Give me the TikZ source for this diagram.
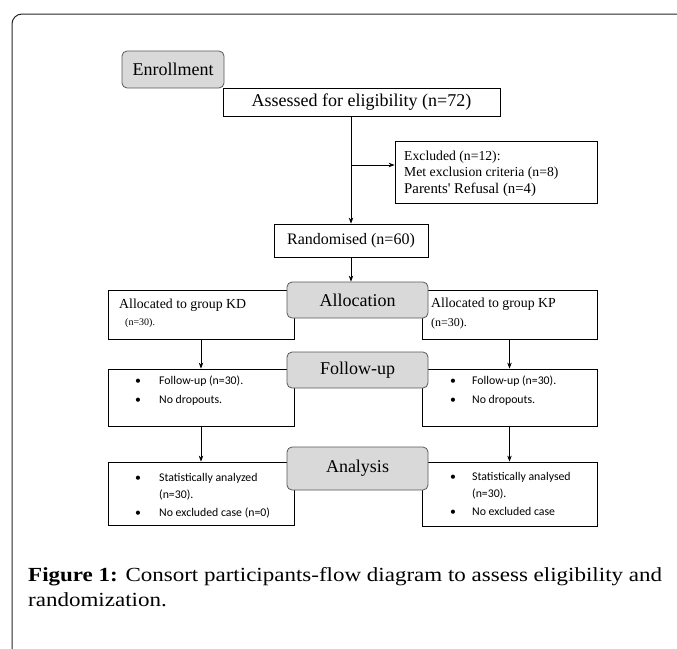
\documentclass[tikz,border=0pt]{standalone}
\usepackage{fontspec}
\setmainfont{Liberation Serif}
\newfontfamily\calfont{Carlito}
\newfontfamily\capfont{Liberation Serif}[FakeStretch=1.15]
\usetikzlibrary{arrows.meta}
\begin{document}
\begin{tikzpicture}[x=1pt,y=-1pt,
  box/.style={draw=black, line width=0.8pt, inner sep=0pt, fill=white},
  greybox/.style={draw=black!65, fill=black!15, rounded corners=5pt, line width=0.8pt, inner sep=0pt, minimum width=141pt},
  arr/.style={-{Stealth[length=6pt,width=4.5pt]}, line width=0.8pt},
  ln/.style={line width=0.8pt},
  big/.style={font=\fontsize{18}{20}\selectfont},
  mid/.style={font=\fontsize{16}{18}\selectfont},
  txt/.style={inner sep=0pt, anchor=base west},
  bul/.style={inner sep=0pt, anchor=base west, font=\calfont\fontsize{11.8}{14}\selectfont},
  dot/.style={inner sep=0pt, anchor=base, font=\calfont\fontsize{11.8}{14}\selectfont}]
\useasboundingbox (0,0) rectangle (677,648);
\clip (0,0) rectangle (677,648);
% frame
\draw[line width=1pt, black!85, rounded corners=10pt] (12,670) -- (12,14) -- (700,14);
% enrollment
\node[box, minimum width=277pt, minimum height=28pt, big] (assess) at (361.5,102) {Assessed for eligibility (n=72)};
\node[greybox, minimum width=102pt, minimum height=37pt, big] (enrol) at (173,69.5) {Enrollment};
\node[box, minimum width=202pt, minimum height=62pt] (excl) at (496,172) {};
\node[txt, font=\fontsize{13.7}{15}\selectfont] (ex1) at (404,160) {Excluded (n=12):};
\node[txt, font=\fontsize{13.7}{15}\selectfont] (ex2) at (404,176) {Met exclusion criteria (n=8)};
\node[txt, font=\fontsize{14.8}{16}\selectfont] (ex3) at (404,193) {Parents\textquotesingle\ Refusal (n=4)};
\node[box, minimum width=154pt, minimum height=33pt, mid] (rand) at (351,240.5) {Randomised (n=60)};
\coordinate (br) at (351,165);
\draw[arr] (rand.north |- assess.south) -- (rand.north);
\draw[arr] (br) -- (br -| excl.west);
% allocation
\node[box, minimum width=186pt, minimum height=49pt] (kd) at (201,314.5) {};
\node[box, minimum width=175pt, minimum height=49pt] (kp) at (509.5,314.5) {};
\node[greybox, minimum height=36pt, big] (alloc) at (357.5,300) {Allocation};
\draw[arr] (rand.south) -- (rand.south |- alloc.north);
\node[txt, font=\fontsize{13.8}{15}\selectfont] (kd1) at (119,308) {Allocated to group KD};
\node[txt, font=\fontsize{10}{12}\selectfont] (kd2) at (125,325) {(n=30).};
\node[txt, font=\fontsize{13.8}{15}\selectfont] (kp1) at (431,307) {Allocated to group KP};
\node[txt, font=\fontsize{12}{14}\selectfont] (kp2) at (431,326) {(n=30).};
% follow-up
\node[box, minimum width=186pt, minimum height=57pt] (fl) at (201,397.5) {};
\node[box, minimum width=175pt, minimum height=57pt] (fr) at (509.5,397.5) {};
\node[greybox, minimum height=36pt, big] (follow) at (357.5,370) {Follow-up};
\draw[arr] (kd.south) -- (fl.north);
\draw[arr] (kd.south -| fr.north) -- (fr.north);
\node[dot] (fld1) at (138,384) {•};
\node[bul] (fl1) at (159,384) {Follow-up (n=30).};
\node[dot] (fld2) at (138,403) {•};
\node[bul] (fl2) at (159,403) {No dropouts.};
\node[dot] (frd1) at (453,384) {•};
\node[bul] (fr1) at (472,384) {Follow-up (n=30).};
\node[dot] (frd2) at (453,403) {•};
\node[bul] (fr2) at (472,403) {No dropouts.};
% analysis
\node[box, minimum width=186pt, minimum height=63pt] (al) at (201,493.5) {};
\node[box, minimum width=175pt, minimum height=64pt] (ar) at (509.5,494) {};
\node[greybox, minimum height=43pt, big] (analysis) at (357.5,468.5) {Analysis};
\draw[arr] (fl.south) -- (al.north);
\draw[arr] (fr.south) -- (ar.north);
\node[dot] (ald1) at (138,481) {•};
\node[bul] (al1) at (159,481) {Statistically analyzed};
\node[bul] (al2) at (159,498) {(n=30).};
\node[dot] (ald3) at (138,516) {•};
\node[bul] (al3) at (159,516) {No excluded case (n=0)};
\node[dot] (ard1) at (453,480) {•};
\node[bul] (ar1) at (472,480) {Statistically analysed};
\node[bul] (ar2) at (472,497) {(n=30).};
\node[dot] (ard3) at (453,515) {•};
\node[bul] (ar3) at (472,515) {No excluded case};
% caption
\node[txt, font=\capfont\fontsize{20}{24}\selectfont] (cap1) at (28,581) {\textbf{Figure 1:} Consort participants-flow diagram to assess eligibility and};
\node[txt, font=\capfont\fontsize{20}{24}\selectfont] (cap2) at (28,606) {randomization.};
\end{tikzpicture}
\end{document}
